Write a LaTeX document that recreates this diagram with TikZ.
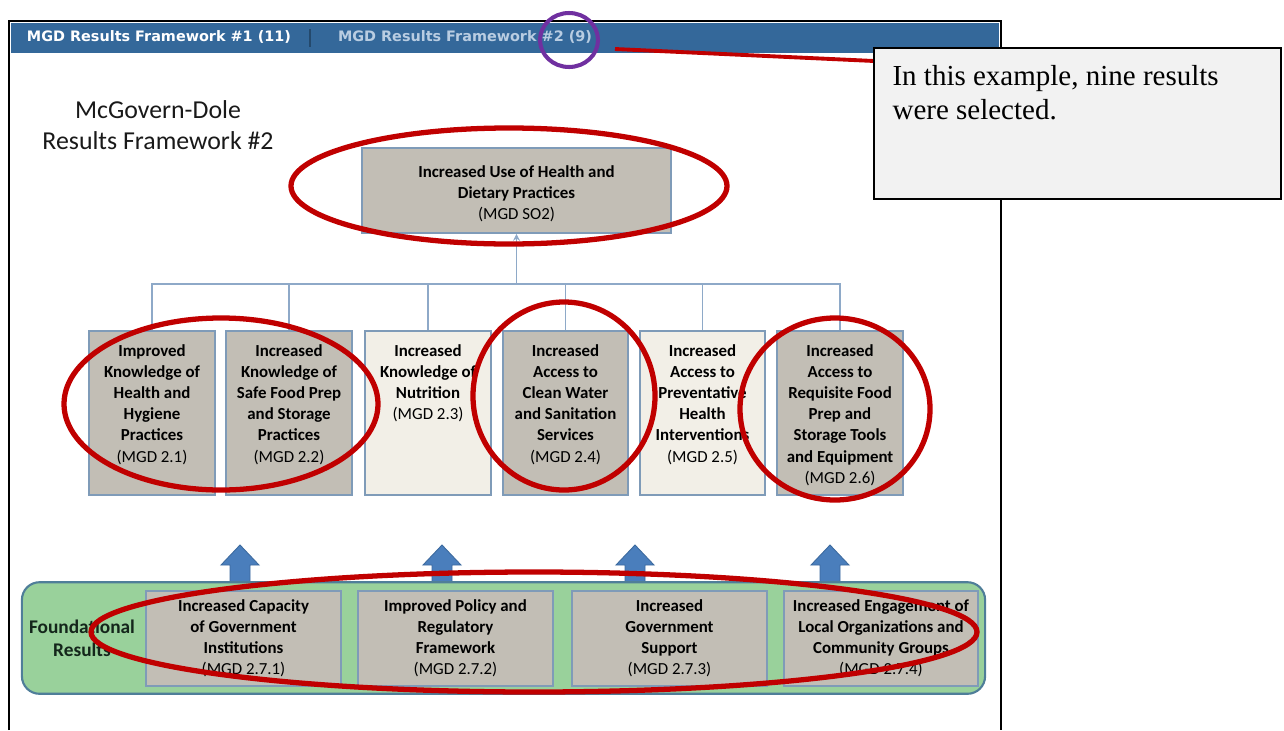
\documentclass[tikz,border=0pt]{standalone}
\usepackage{fontspec}
\setmainfont{Carlito}
\newfontfamily\tabfont{DejaVu Sans}
\newfontfamily\notefont{Liberation Serif}
\usetikzlibrary{arrows.meta}

\definecolor{barblue}{HTML}{34689A}
\definecolor{tabpale}{HTML}{B9CDE2}
\definecolor{boxgray}{HTML}{C2BEB5}
\definecolor{boxcream}{HTML}{F2EFE7}
\definecolor{boxedge}{HTML}{7F9BB8}
\definecolor{linkblue}{HTML}{8EA9C8}
\definecolor{bandgreen}{HTML}{99D19B}
\definecolor{bandedge}{HTML}{4F7E99}
\definecolor{arrowblue}{HTML}{4A7EBC}
\definecolor{arrowedge}{HTML}{3C6A9E}
\definecolor{hired}{HTML}{C00000}
\definecolor{hipurple}{HTML}{7030A0}
\definecolor{notegray}{HTML}{F2F2F2}
\definecolor{darkgreen}{HTML}{14261B}

\tikzset{
  frame/.style={draw=black, line width=1.2pt},
  tabtext/.style={font=\tabfont\bfseries\fontsize{8.2}{10}\selectfont, inner sep=0pt},
  resbox/.style={draw=boxedge, line width=1.1pt, fill=boxgray, inner sep=0pt},
  boxfont/.style={font=\fontsize{9.6}{12}\selectfont\bfseries},
  topbox/.style={resbox, boxfont, align=center, minimum width=176.3pt, minimum height=48.2pt},
  midbox/.style={resbox, minimum width=71.4pt, minimum height=93pt},
  midtext/.style={boxfont, align=center, anchor=north, inner sep=0pt},
  lowbox/.style={resbox, boxfont, align=center, minimum width=110.5pt, minimum height=53.9pt},
  band/.style={draw=bandedge, line width=1.2pt, fill=bandgreen, rounded corners=10pt, minimum width=548.2pt, minimum height=63.5pt},
  link/.style={draw=linkblue, line width=0.9pt},
  uparrow/.style={fill=arrowblue, draw=arrowedge, line width=0.5pt},
  hilite/.style={draw=hired, line width=3pt},
  ring/.style={draw=hipurple, line width=2.3pt},
  notebox/.style={draw=black, line width=1pt, fill=notegray, minimum width=231.9pt, minimum height=85.6pt},
  notetext/.style={font=\notefont\fontsize{16.5}{19.3}\selectfont, align=left, anchor=north west, inner sep=0pt}
}

\begin{document}
\begin{tikzpicture}[x=0.02cm, y=-0.02cm]
  \useasboundingbox (0,0) rectangle (1284,730);

  \draw[frame] (9,730) -- (9,21) -- (1001,21) -- (1001,730);
  \fill[barblue] (11,23) rectangle (999,53);
  \node[tabtext, text=white] (tab1) at (159,37) {MGD Results Framework \#1 (11)};
  \draw[draw=barblue!70!black, line width=0.8pt] (310,29) -- (310,47);
  \node[tabtext, text=tabpale] (tab2) at (465,37) {MGD Results Framework \#2 (9)};

  \node[font=\fontsize{14.7}{17.6}\selectfont, align=center, text=black!90] (title) at (158,125) {McGovern-Dole\\Results Framework \#2};

  \node[topbox] (so) at (516.5,190.5) {\rule{0pt}{10pt}Increased Use of Health and\\Dietary Practices\\{\mdseries (MGD SO2)}};

  \node[midbox] (m1) at (152,413) {};
  \node[midbox] (m2) at (289,413) {};
  \node[midbox, fill=boxcream] (m3) at (428,413) {};
  \node[midbox] (m4) at (565.5,413) {};
  \node[midbox, fill=boxcream] (m5) at (702.5,413) {};
  \node[midbox] (m6) at (840,413) {};

  \node[midtext] (m1t) at ([yshift=-8pt]m1.north) {Improved\\Knowledge of\\Health and\\Hygiene\\Practices\\{\mdseries (MGD 2.1)}};
  \node[midtext] (m2t) at ([yshift=-8pt]m2.north) {Increased\\Knowledge of\\Safe Food Prep\\and Storage\\Practices\\{\mdseries (MGD 2.2)}};
  \node[midtext] (m3t) at ([yshift=-8pt]m3.north) {Increased\\Knowledge of\\Nutrition\\{\mdseries (MGD 2.3)}};
  \node[midtext] (m4t) at ([yshift=-8pt]m4.north) {Increased\\Access to\\Clean Water\\and Sanitation\\Services\\{\mdseries (MGD 2.4)}};
  \node[midtext] (m5t) at ([yshift=-8pt]m5.north) {Increased\\Access to\\Preventative\\Health\\Interventions\\{\mdseries (MGD 2.5)}};
  \node[midtext] (m6t) at ([yshift=-8pt]m6.north) {Increased\\Access to\\Requisite Food\\Prep and\\Storage Tools\\and Equipment\\{\mdseries (MGD 2.6)}};

  \coordinate (bus) at (516.5,284);
  \draw[link] (m1.north) |- (bus);
  \draw[link] (m2.north) |- (bus);
  \draw[link] (m3.north) |- (bus);
  \draw[link] (m4.north) |- (bus);
  \draw[link] (m5.north) |- (bus);
  \draw[link] (m6.north) |- (bus);
  \draw[link, -{Stealth[length=4pt, width=4pt]}] (bus) -- (so.south);

  \foreach \x in {240,442,635,830}
    \filldraw[uparrow] (\x-10,584) -- (\x-10,565) -- (\x-19,565) -- (\x,545) -- (\x+19,565) -- (\x+10,565) -- (\x+10,584) -- cycle;

  \node[band] (fr) at (503.5,638) {};
  \node[font=\fontsize{11}{13}\selectfont\bfseries, align=center, text=darkgreen] (frt) at (82,638) {Foundational\\Results};
  \node[lowbox] (f1) at (243.5,638.5) {Increased Capacity\\of Government\\Institutions\\{\mdseries (MGD 2.7.1)}};
  \node[lowbox] (f2) at (455.5,638.5) {Improved Policy and\\Regulatory\\Framework\\{\mdseries (MGD 2.7.2)}};
  \node[lowbox] (f3) at (669.5,638.5) {Increased\\Government\\Support\\{\mdseries (MGD 2.7.3)}};
  \node[lowbox] (f4) at (881,638.5) {Increased Engagement of\\Local Organizations and\\Community Groups\\{\mdseries (MGD 2.7.4)}};

  \draw[hilite] (509,186) ellipse [x radius=218, y radius=58];
  \draw[hilite] (221,404) ellipse [x radius=157, y radius=86];
  \draw[hilite] (564,396) ellipse [x radius=91, y radius=94];
  \draw[hilite] (835,409) ellipse [x radius=95, y radius=91];
  \draw[hilite] (534,632) ellipse [x radius=443, y radius=60];
  \draw[ring] (569,40) ellipse [x radius=29, y radius=27];

  \coordinate (tabpin) at (615,49);
  \node[notebox] (note) at (1077.5,123.5) {};
  \draw[hilite, line width=2.2pt] (tabpin) -- (note.163);
  \node[notetext] (notet) at ([xshift=11pt, yshift=-10pt]note.north west) {In this example, nine results\\were selected.};
\end{tikzpicture}
\end{document}
